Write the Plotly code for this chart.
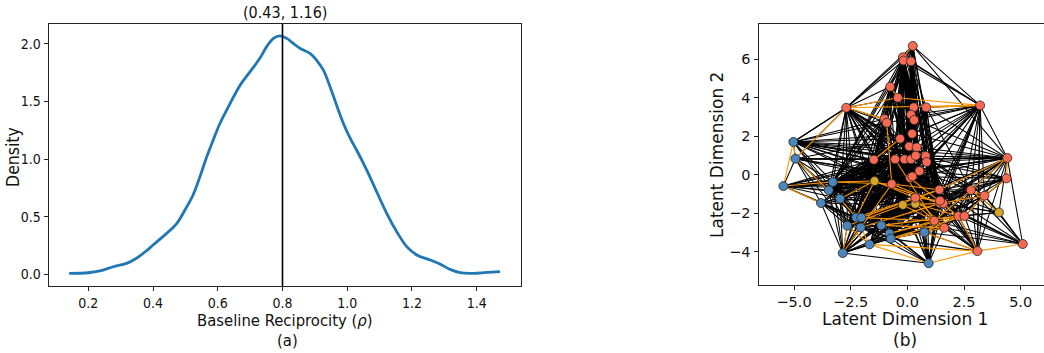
import plotly.graph_objects as go

# ---------------- Panel (a): density of baseline reciprocity ----------------
rho_x = [0.141, 0.2, 0.236, 0.277, 0.318, 0.349, 0.38, 0.40, 0.442, 0.473, 0.499, 0.524,
         0.545, 0.566, 0.586, 0.607, 0.638, 0.669, 0.70, 0.73, 0.751, 0.772, 0.792, 0.813,
         0.833, 0.854, 0.885, 0.905, 0.926, 0.947, 0.967, 0.988, 1.009, 1.029, 1.06, 1.091,
         1.122, 1.153, 1.184, 1.215, 1.257, 1.288, 1.318, 1.349, 1.39, 1.431, 1.472]
density = [0.009, 0.014, 0.03, 0.066, 0.095, 0.14, 0.205, 0.254, 0.355, 0.44, 0.56, 0.69,
           0.847, 1.02, 1.165, 1.31, 1.48, 1.64, 1.757, 1.873, 1.974, 2.046, 2.068, 2.046,
           2.003, 1.96, 1.916, 1.858, 1.772, 1.627, 1.468, 1.31, 1.18, 1.078, 0.905, 0.717,
           0.529, 0.37, 0.24, 0.168, 0.124, 0.087, 0.043, 0.014, 0.009, 0.017, 0.023]
vline_x = 0.8
title_a = "(0.43, 1.16)"

# ---------------- Panel (b): latent space network ----------------
node_names = ["R1", "R2", "R3", "R4", "R5", "R6", "R7", "R8", "R9", "R10", "R11", "R12", "R13",
              "R14", "R15", "R16", "R17", "R18", "R19", "R20", "R21", "R22", "R23", "R24", "R25",
              "R26", "R27", "R28", "R29", "R30", "R31", "R32", "R33", "R34", "R35", "R36", "R37",
              "R38", "R39", "R40", "R41", "R42", "R43", "R44",
              "G1", "G2", "G3", "G4",
              "B1", "B2", "B3", "B4", "B5", "B6", "B7", "B8", "B9", "B10", "B11", "B12", "B13",
              "B14", "B15", "B16", "B17", "B18"]
node_x = [0.24, -0.20, -0.17, 0.16, -0.76, -0.42, -2.70, 0.28, 0.83, 3.21, 0.16, 0.30, -1.01,
          -0.91, 0.21, -0.32, 0.08, 0.41, -1.48, -0.54, -0.13, 0.16, 0.37, 0.81, 0.85,
          4.41, 4.38, 0.53, 0.12, 0.22, -0.69, 0.35, 1.41, 2.80, 3.40, 1.44, 1.59,
          1.44, 2.25, 2.52, 1.19, 1.63, 3.09, 5.09,
          -1.45, -0.20, 0.35, 4.04,
          -5.03, -4.94, -5.47, -3.29, -3.47, -2.97, -3.81, -2.26, -2.03, -2.65, -2.06, -1.15, -0.79,
          -0.73, 0.75, -1.67, -2.85, 0.94]
node_y = [6.69, 6.10, 5.93, 5.89, 4.57, 4.00, 3.48, 3.50, 3.50, 3.60, 3.12, 2.84, 2.90,
          2.70, 2.13, 1.87, 1.47, 1.42, 0.78, 0.80, 0.80, 0.80, 0.99, 0.97, 0.66,
          0.87, -0.19, 0.19, -0.17, -0.09, -0.48, -1.20, -0.78, -0.80, -1.09, -1.49, -1.49,
          -1.35, -2.15, -2.15, -2.39, -2.76, -3.97, -3.60,
          -0.33, -1.57, -1.51, -1.96,
          1.70, 0.83, -0.59, -0.38, -0.81, -1.25, -1.47, -2.22, -2.23, -2.65, -2.74, -2.63, -3.05,
          -3.32, -2.99, -3.62, -4.07, -4.60]
node_group = ["r"] * 44 + ["g"] * 4 + ["b"] * 18

black_edges = {
    "R1": "R2 R3 R4 R5 R6 R7 R10 R26 R8 R11 R12 R15 R17 R18 R21 R22 R24 R28 R29 R32 R33 R36 R16 R13",
    "R7": "B1 B2 B4 B5 B6 B8 B10 R2 R3 R5 R6 R13 R14 R16 R17 R19 R20 R21 R22 R29 R31 R32 R33 R36 R25 G2 B12 B13 R24 R28",
    "R10": "R2 R4 R8 R9 R11 R12 R15 R17 R18 R23 R24 R25 R26 R28 R33 R34 R35 R36 R37 R43 R32 R29 R22 R39 R41 B15 R14 R16 R3",
    "R26": "R9 R12 R15 R17 R22 R23 R24 R25 R28 R33 R34 R35 R36 R37 R39 R44 G4 R29 R32 R41 B12 B13 R19 B4 R20",
    "R27": "R24 R25 R33 R36 R37 R39 R34 R41 R42 R28 R30 B9",
    "R44": "R34 R35 R36 R39 R40 R41 R42 R33 G4 B15 R37",
    "R43": "R10 R26 R33 R34 R35 R36 R37 R39 R40 R41 R42 B15 R32 G3 R28 R24 R30 B14",
    "B18": "B17 B13 B14 B15 R41 R42 R36 R37 R38 R32 G2 G3 R29 R30 R28 R25 R31 R20 R33 B12 B11",
    "B17": "B8 B9 B10 B11 B12 B13 B14 B16 B6 B7 B5 R31 G2 G3 R32 R29 R30 R20 R21 R19 R41 B4",
    "B1": "B2 B4 B5 B6 R7 R13 R14 R16 R19 R20 R21 R22 R15 R17 R28 R24 R25 R33 R26 G1 R31 R29",
    "B2": "B4 B5 B6 B7 B8 B10 R19 R20 R21 R16 R22 R29 R30 R33 B3",
    "B3": "B4 B5 B6 B7 B8 R19 R20 R22 R29 R30 R26 R33 R28 R31 G1 R36",
    "B4": "R2 R3 R5 R6 R13 R14 R15 R16 R17 R18 R19 R20 R21 R22 R23 R24 R25 R28 R29 R30 R31 R32 R33 B8 B9 B10 B11 B12 G1",
    "B5": "R16 R17 R19 R20 R21 R22 R28 R29 R30 R31 R32 R33 R36 R25 B8 B10 G2 R15 R4",
    "B6": "R15 R16 R17 R19 R20 R22 R23 R24 R28 R29 R31 R33 B8 B9 B10 B11 B12 B13 G1 G2 G3",
    "B7": "B8 B10 B11 B13 R19 R20 R29 R31 R33 G2 B14",
    "B8": "R2 R3 R5 R6 R12 R14 R16 R17 R19 R20 R21 R22 R23 R24 R25 R28 R29 R30 R31 R32 R33 R36 R38 G1 G2 G3 R34 B9 B10 B11 B12",
    "B9": "R3 R4 R6 R13 R16 R17 R18 R20 R21 R22 R24 R28 R29 R30 R32 R33 R36 R37 R34 R35 R39 G2 G3 R41 B11 B12",
    "B10": "R5 R14 R16 R19 R20 R21 R29 R31 G1 G2 B12 B13 B16 R33 R36",
    "B11": "R17 R19 R20 R21 R22 R29 R30 R31 R32 R33 R36 G2 G3 B13 B14 B15 R41",
    "B12": "R15 R17 R20 R21 R22 R24 R28 R29 R30 R32 R33 R36 R37 R38 R39 R41 R42 G2 G3 B15 B13",
    "B13": "R12 R16 R17 R20 R21 R22 R28 R29 R30 R32 R33 R36 R37 R41 R42 R34 R39 G2 G3 B15 B14",
    "B14": "R17 R21 R22 R29 R30 R32 R36 R37 R38 R41 R42 R40 G3 B15 R35",
    "B15": "R22 R25 R28 R29 R32 R33 R36 R37 R38 R41 R42 R39 R40 R34",
    "B16": "R20 R21 R29 R31 R32 G2 G3 B13 B14 R41 R36 B12",
    "R2": "R5 R6 R8 R11 R12 R13 R14 R15 R16 R17 R18 R20 R21 R22 R23 R28 R29 R30 R31 R32 G2 G3",
    "R3": "R6 R11 R12 R15 R16 R17 R18 R20 R21 R22 R23 R24 R28 R29 R30 R32 R33 G2 G3 R36",
    "R4": "R8 R9 R11 R12 R15 R17 R18 R21 R22 R23 R24 R25 R28 R29 R30 R32 R36 R37 R38 R41",
    "R5": "R13 R14 R16 R17 R20 R21 R29 R31 G1 R19 R32",
    "R6": "R12 R15 R16 R17 R21 R22 R28 R29 R30 R32 G2",
    "R9": "R15 R17 R23 R24 R25 R28 R33 R36 R34",
    "R14": "R16 R19 R20 R29 R31 G1 R32",
    "R19": "R20 R21 R29 R31 G1 G2 R32 R33",
    "R20": "R29 R31 R32 G2 G3 R33 R36 R41",
    "R21": "R29 R30 R32 R36 R37 R41 R42 G3",
    "R22": "R29 R30 R32 R33 R36 R38 R41",
    "R24": "R33 R34 R35 R36 R37 R39 R40 R41 R42 R32",
    "R25": "R33 R34 R36 R37 R39 R41 R42",
    "R28": "R32 R33 R36 R37 R38 R39 R41 R42 G2 G3 R34",
    "R29": "R32 R33 R36 R37 R41 R42 G2 G3",
    "R30": "R32 R33 R36 R38 R39 R41 G3",
    "R34": "R36 R37 R38 R39 R40 R41 R42 R33 G4",
    "R35": "R36 R37 R39 R40 R41 R33 G4",
    "G4": "R36 R37 R39 R40 R33",
}

orange_edges = {
    "R7": "R10 R6 B2 R13",
    "R6": "R10",
    "R9": "R10",
    "R1": "R2",
    "B1": "B2 B3",
    "B3": "B4 B7",
    "B2": "B5",
    "R26": "R27 R34",
    "R27": "R35",
    "R43": "R44 B18 R39",
    "B18": "B16",
    "B16": "R43 B10",
    "B17": "B10 R31",
    "B9": "R41 R33",
    "B12": "R42 R39",
    "B13": "R39 R41",
    "B11": "R36 B16",
    "G2": "R36 R41",
    "G3": "R41 R39",
    "B8": "R33 G1",
    "B10": "G2",
    "B6": "G1 B8",
    "B4": "G1 R31",
    "R31": "R36 R33",
    "G1": "R32 R36",
    "R41": "R34",
    "R40": "R35",
    "R34": "R35 G4",
    "B14": "R40 R42",
    "B15": "R39 R43",
    "R32": "R38 R42",
    "R29": "R39",
    "R20": "R41",
    "R33": "R26",
    "R36": "R35",
    "R16": "R19",
    "R14": "R31",
    "R5": "R6",
    "R2": "R3",
}

idx = {n: i for i, n in enumerate(node_names)}


def edge_xy(edges):
    xs, ys = [], []
    for src, tgts in edges.items():
        for t in tgts.split():
            a, b = idx[src], idx[t]
            xs += [node_x[a], node_x[b], None]
            ys += [node_y[a], node_y[b], None]
    return xs, ys


FONT_A = "DejaVu Sans Condensed, DejaVu Sans"
FONT_B = "DejaVu Sans"
AX = "#222222"
W, H = 1044, 353

fig = go.Figure()

# panel a
fig.add_trace(go.Scatter(x=rho_x, y=density, mode="lines", line=dict(color="#1f77b4", width=2.8),
                         line_shape="spline", xaxis="x", yaxis="y", showlegend=False, hoverinfo="skip"))
fig.add_trace(go.Scatter(x=[vline_x, vline_x], y=[-0.101, 2.173], mode="lines",
                         line=dict(color="black", width=1.6), xaxis="x", yaxis="y",
                         showlegend=False, hoverinfo="skip"))

# panel b
bx, by = edge_xy(black_edges)
fig.add_trace(go.Scatter(x=bx, y=by, mode="lines", line=dict(color="black", width=1.05),
                         xaxis="x2", yaxis="y2", showlegend=False, hoverinfo="skip"))
ox, oy = edge_xy(orange_edges)
fig.add_trace(go.Scatter(x=ox, y=oy, mode="lines", line=dict(color="#ff9500", width=1.1),
                         xaxis="x2", yaxis="y2", showlegend=False, hoverinfo="skip"))
colors = {"r": "#fa6a52", "g": "#d4a52a", "b": "#4a86bb"}
for g in ["b", "g", "r"]:
    sel = [i for i, k in enumerate(node_group) if k == g]
    fig.add_trace(go.Scatter(x=[node_x[i] for i in sel], y=[node_y[i] for i in sel], mode="markers",
                             marker=dict(size=9, color=colors[g], line=dict(color="#222", width=0.8)),
                             xaxis="x2", yaxis="y2", showlegend=False, hoverinfo="skip"))


def px_dom_x(a, b):
    return [a / W, b / W]


def px_dom_y(top, bottom):
    return [1 - bottom / H, 1 - top / H]


def common(font, size):
    return dict(showline=True, linecolor=AX, linewidth=1, ticks="outside", ticklen=4, tickwidth=1,
                tickcolor=AX, showgrid=False, zeroline=False,
                tickfont=dict(family=font, size=size, color="#111"))


fig.update_layout(
    width=W, height=H, margin=dict(l=0, r=0, t=0, b=0),
    plot_bgcolor="white", paper_bgcolor="white",
    xaxis=dict(domain=px_dom_x(48.7, 521), range=[0.0776, 1.537], tickvals=[0.2, 0.4, 0.6, 0.8, 1.0, 1.2, 1.4],
               tickformat=".1f", mirror=True, anchor="y", **common(FONT_A, 14)),
    yaxis=dict(domain=px_dom_y(23.7, 286), range=[-0.101, 2.173], tickvals=[0, 0.5, 1.0, 1.5, 2.0],
               tickformat=".1f", mirror=True, anchor="x", **common(FONT_A, 14)),
    xaxis2=dict(domain=[758.5 / W, 1.0], range=[-6.57, 6.03], tickvals=[-5, -2.5, 0, 2.5, 5],
                tickformat=".1f", mirror=True, anchor="y2", **common(FONT_B, 14.5)),
    yaxis2=dict(domain=px_dom_y(24, 285), range=[-5.73, 7.83], tickvals=[-4, -2, 0, 2, 4, 6],
                tickformat="d", mirror=False, anchor="x2", **common(FONT_B, 14.5)),
)

anns = [
    (title_a, 285, 13, 0, 16, FONT_A),
    ("Baseline Reciprocity (<i>ρ</i>)", 285, 320, 0, 16.5, FONT_A),
    ("(a)", 287, 340, 0, 16.5, FONT_A),
    ("Density", 13, 157, -90, 17.5, FONT_A),
    ("Latent Dimension 1", 905, 319, 0, 17, FONT_B),
    ("(b)", 905, 340, 0, 17, FONT_B),
    ("Latent Dimension 2", 717, 155, -90, 17, FONT_B),
]
for text, x, y, ang, sz, fam in anns:
    fig.add_annotation(text=text, x=x / W, y=1 - y / H, xref="paper", yref="paper", showarrow=False,
                       textangle=ang, xanchor="center", yanchor="middle",
                       font=dict(family=fam, size=sz, color="#111"))

fig.write_html("out.html", config={"displayModeBar": False})

# remove the browser's default body margin so the figure sits at the page origin
with open("out.html", "r", encoding="utf-8") as f:
    html = f.read()
html = html.replace("<body>", '<body style="margin:0;padding:0;overflow:hidden">', 1)
with open("out.html", "w", encoding="utf-8") as f:
    f.write(html)
